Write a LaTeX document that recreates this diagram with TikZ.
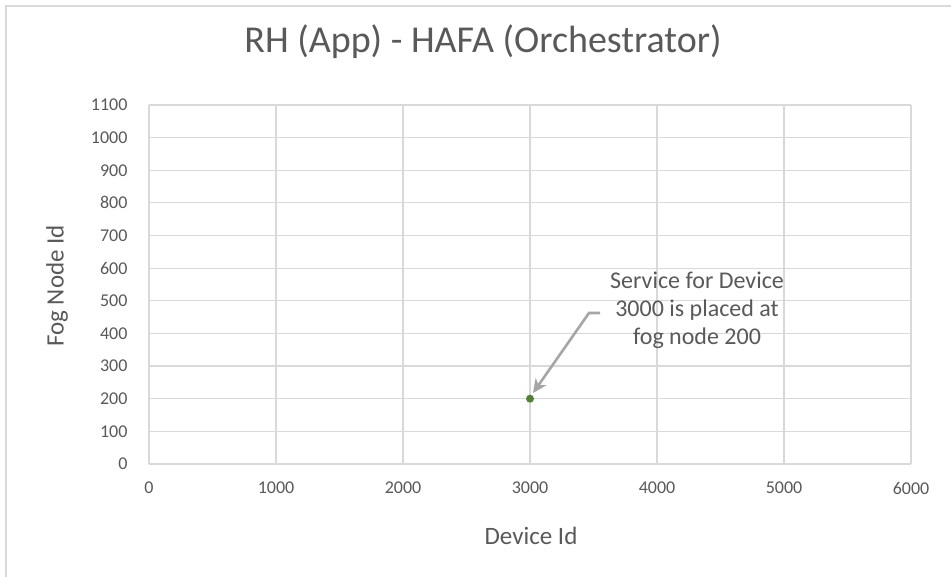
\documentclass[tikz,border=0pt]{standalone}
\usepackage{fontspec}
\setmainfont{Carlito}
\usepackage{xcolor}
\usetikzlibrary{positioning,arrows.meta}
\definecolor{gridgray}{HTML}{D9D9D9}
\definecolor{textgray}{HTML}{595959}
\definecolor{arrowgray}{HTML}{A6A6A6}
\definecolor{markgreen}{HTML}{548235}
\tikzset{
  gridline/.style={draw=gridgray, line width=1.2pt},
  ticklabel/.style={text=textgray, font=\fontsize{18}{20}\selectfont, inner sep=0pt},
  axistitle/.style={text=textgray, font=\fontsize{25}{28}\selectfont, inner sep=0pt},
  notearrow/.style={draw=arrowgray, line width=2.6pt, -{Stealth[length=14pt,width=13pt]}}
}
\begin{document}
\begin{tikzpicture}[x=1pt,y=-1pt]
  \useasboundingbox (0,0) rectangle (951,577);
  \fill[white] (0,0) rectangle (951,577);
  % chart frame
  \draw[gridgray, line width=1.5pt] (6,577) -- (6,6) -- (951,6);
  % title
  \node[text=textgray, font=\fontsize{38}{42}\selectfont, inner sep=0pt] (title) at (483,42) {RH (App) - HAFA (Orchestrator)};
  % grid and ticks
  \foreach \k in {0,...,11}
    \draw[gridline] (149,464-32.64*\k) -- (911,464-32.64*\k)
      node[ticklabel, anchor=east] at (128,464-32.64*\k) {\pgfmathparse{int(100*\k)}\pgfmathresult};
  \foreach \k in {0,...,6}
    \draw[gridline] (149+127*\k,105) -- (149+127*\k,464)
      node[ticklabel] at (149+127*\k,488) {\pgfmathparse{int(1000*\k)}\pgfmathresult};
  % axis titles
  \node[axistitle] (xtitle) at (531,536) {Device Id};
  \node[axistitle, rotate=90] (ytitle) at (57,286) {Fog Node Id};
  % data point
  \fill[markgreen] (530,398.7) circle (4pt);
  \coordinate (pt) at (533,393);
  % annotation
  \node[text=textgray, font=\fontsize{24}{28}\selectfont, align=center, inner sep=0pt] (note) at (697,310)
    {Service for Device\\3000 is placed at\\fog node 200};
  \coordinate (tail) at (600,313);
  \coordinate (bend) at (589,313);
  \draw[notearrow] (tail) -- (bend) -- (pt);
\end{tikzpicture}
\end{document}
